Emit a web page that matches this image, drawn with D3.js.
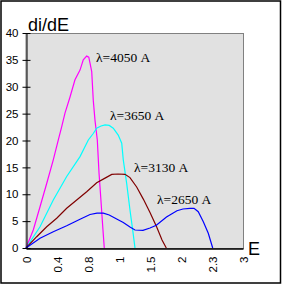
<!DOCTYPE html>
<html><head><meta charset="utf-8">
<script src="https://cdn.jsdelivr.net/npm/d3@7"></script>
<style>html,body{margin:0;padding:0;background:#fff;}svg{display:block;}</style>
</head><body>
<script>
const xTicks = [0, 0.4, 0.8, 1, 1.5, 2, 2.3, 3];
const yTicks = [0, 5, 10, 15, 20, 25, 30, 35, 40];

const e4050 = [0,0.094,0.181,0.267,0.352,0.417,0.461,0.503,0.568,0.632,0.697,0.739,0.783,0.805,0.813,0.824,0.834,0.845,0.86,0.871,0.882,0.895,0.905];
const v4050 = [0,3.35,7.68,12.0,16.4,20.1,22.6,25.1,28.1,31.3,33.1,35.0,35.7,35.5,34.4,32.8,27.5,23.8,20.1,14.0,9.5,4.0,0];

const e3650 = [0,0.181,0.352,0.525,0.697,0.802,0.834,0.856,0.884,0.910,0.937,0.963,0.995,1.044,1.069,1.124,1.177,1.221,1.258];
const v3650 = [0,3.96,8.93,13.3,17.0,20.1,21.3,22.3,22.7,22.9,22.8,22.3,21.0,19.5,16.4,12.0,7.07,3.35,0];

const e3130 = [0,0.138,0.267,0.396,0.525,0.654,0.783,0.856,0.910,0.953,0.994,1.097,1.177,1.285,1.392,1.5,1.608,1.694,1.763];
const v3130 = [0,2.10,3.96,5.53,7.39,8.93,10.47,12.15,13.0,13.7,13.77,13.7,13.1,11.35,9.1,6.6,3.9,1.5,0];

const e2650 = [0,0.181,0.352,0.525,0.697,0.813,0.858,0.899,0.937,0.985,1.069,1.177,1.258,1.387,1.5,1.602,1.766,1.935,2.019,2.087,2.126,2.167,2.216,2.264,2.316];
const v2650 = [0,1.80,3.03,4.15,5.34,6.23,6.5,6.5,6.14,5.4,4.74,3.9,3.35,3.29,3.72,4.22,5.77,6.94,7.26,7.39,7.39,6.75,4.89,2.73,0];

const seriesNames = ["λ=4050 A", "λ=3650 A", "λ=3130 A", "λ=2650 A"];
const seriesE = [e4050, e3650, e3130, e2650];
const seriesV = [v4050, v3650, v3130, v2650];
const colors = ["#ff00ff", "#00ffff", "#800000", "#0000ff"];
const labelAt = [[96, 62], [110, 120], [134, 172], [157, 204]];

const W = 286, H = 284;
const mL = 26, mR = 243, mT = 33, mB = 248;

const svg = d3.select("body").append("svg").attr("width", W).attr("height", H);

svg.append("rect").attr("x", 1).attr("y", 1).attr("width", 279.5).attr("height", 282)
  .attr("fill", "#fff").attr("stroke", "#000").attr("stroke-width", 1.5);

const x = d3.scaleLinear().domain(xTicks)
  .range(xTicks.map((d, i) => mL + i * (mR - mL) / (xTicks.length - 1)));
const y = d3.scaleLinear().domain([0, 40]).range([mB, mT]);

svg.append("rect").attr("x", mL).attr("y", mT + 0.5).attr("width", mR - mL + 0.5).attr("height", mB - mT)
  .attr("fill", "#e1e1e1").attr("stroke", "#808080").attr("stroke-width", 1);

const plot = svg.append("g");
const line = d3.line().x(d => x(d[0])).y(d => y(d[1]));
seriesE.forEach((es, k) => {
  const pts = es.map((e, i) => [e, seriesV[k][i]]);
  plot.append("path").attr("d", line(pts)).attr("fill", "none")
    .attr("stroke", colors[k]).attr("stroke-width", 1.2);
});

// Y axis
const yAxis = svg.append("g").attr("transform", `translate(${mL + 0.5},0)`)
  .call(d3.axisLeft(y).tickValues(yTicks).tickSize(4).tickPadding(5).tickSizeOuter(0));
yAxis.select(".domain").attr("stroke", "#000");
yAxis.selectAll(".tick line").attr("x2", 4).attr("x1", -4).attr("stroke", "#000");
yAxis.selectAll("text").attr("font-family", "Liberation Sans, Arial, sans-serif")
  .attr("font-size", 11.5).attr("fill", "#000").attr("x", -8);

// X axis
const xAxis = svg.append("g").attr("transform", `translate(0,${mB + 0.5})`)
  .call(d3.axisBottom(x).tickValues(xTicks).tickSize(0).tickSizeOuter(0).tickFormat(d3.format("")));
xAxis.select(".domain").attr("stroke", "#000").attr("stroke-width", 1.5);
xAxis.selectAll("text").attr("font-family", "Liberation Sans, Arial, sans-serif")
  .attr("font-size", 11.5).attr("fill", "#000")
  .attr("transform", "rotate(-90)").attr("text-anchor", "end")
  .attr("x", -8).attr("y", 0).attr("dy", "0.35em").attr("dx", 0);

// Axis titles
svg.append("text").attr("x", 28).attr("y", 31).text("di/dE")
  .attr("font-family", "Liberation Sans, Arial, sans-serif").attr("font-size", 18).attr("fill", "#000");
svg.append("text").attr("x", 248).attr("y", 255).text("E")
  .attr("font-family", "Liberation Sans, Arial, sans-serif").attr("font-size", 18).attr("fill", "#000");

// Series labels
seriesNames.forEach((n, k) => {
  svg.append("text").attr("x", labelAt[k][0]).attr("y", labelAt[k][1]).text(n)
    .attr("font-family", "Liberation Serif, Times New Roman, serif").attr("font-size", 13.5).attr("fill", "#000");
});
</script>
</body></html>
